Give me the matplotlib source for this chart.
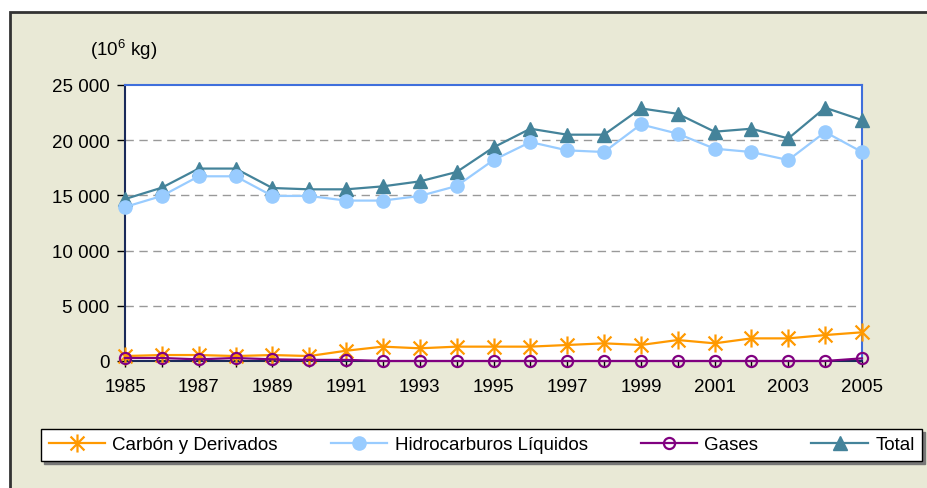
import matplotlib

matplotlib.use("Agg")

import matplotlib.pyplot as plt
from matplotlib.patches import Rectangle
from matplotlib.path import Path

years = list(range(1985, 2006))
carbon = [450, 540, 540, 450, 540, 450, 930, 1300, 1150, 1300, 1300,
          1300, 1450, 1600, 1450, 1900, 1600, 2050, 2050, 2350, 2600]
hidrocarburos = [13950, 14950, 16730, 16730, 14950, 14950, 14530, 14530, 14950, 15850, 18200,
                 19830, 19080, 18930, 21430, 20590, 19230, 18930, 18200, 20740, 18930]
gases = [270, 270, 150, 270, 150, 100, 100, 0, 0, 0, 0,
         0, 0, 0, 0, 0, 0, 0, 0, 0, 240]
total = [14670, 15700, 17430, 17430, 15670, 15550, 15550, 15820, 16270, 17120, 19350,
         21040, 20500, 20500, 22880, 22390, 20770, 21040, 20160, 22940, 21820]

series_names = ["Carbón y Derivados", "Hidrocarburos Líquidos", "Gases", "Total"]
x_tick_labels = [str(y) for y in range(1985, 2006, 2)]
y_ticks = [0, 5000, 10000, 15000, 20000, 25000]
y_tick_labels = ["0", "5 000", "10 000", "15 000", "20 000", "25 000"]
unit_label = r"(10$^{6}$ kg)"

plt.rcParams["font.family"] = ["Liberation Sans", "DejaVu Sans"]
plt.rcParams["mathtext.fontset"] = "custom"
plt.rcParams["mathtext.rm"] = "Liberation Sans"
plt.rcParams["mathtext.it"] = "Liberation Sans"

BEIGE = "#E9E9D6"
ORANGE = "#FF9900"
LIGHT_BLUE = "#99CCFF"
PURPLE = "#800080"
TEAL = "#44839A"
FONT_SIZE = 13.5

# Excel style asterisk: X with a vertical bar
star = Path(
    [(-1, -1), (1, 1), (-1, 1), (1, -1), (0, -1.3), (0, 1.3)],
    [Path.MOVETO, Path.LINETO, Path.MOVETO, Path.LINETO, Path.MOVETO, Path.LINETO],
)

fig = plt.figure(figsize=(9.27, 4.89), dpi=100, facecolor="white")
fig.patches.append(
    Rectangle((10 / 927, -0.2), 1.2, 1.2 - 12.5 / 489, transform=fig.transFigure,
              facecolor=BEIGE, edgecolor="#333333", linewidth=2, zorder=-10)
)

ax = fig.add_axes([125 / 927, 1 - 362 / 489, (862 - 125) / 927, (362 - 86) / 489])
ax.set_facecolor("white")

common = dict(linewidth=1.6, clip_on=False)
ax.plot(years, carbon, color=ORANGE, marker=star, markersize=13, markeredgewidth=1.6,
        label=series_names[0], zorder=5, **common)
ax.plot(years, hidrocarburos, color=LIGHT_BLUE, marker="o", markersize=9.5,
        markeredgecolor=LIGHT_BLUE, label=series_names[1], zorder=4, **common)
ax.plot(years, gases, color=PURPLE, marker="o", markersize=8, markerfacecolor="none",
        markeredgewidth=1.6, label=series_names[2], zorder=6, **common)
ax.plot(years, total, color=TEAL, marker="^", markersize=10.5, markeredgecolor=TEAL,
        label=series_names[3], zorder=3, **common)

ax.set_xlim(1985, 2005)
ax.set_ylim(0, 25000)
ax.set_xticks(years, minor=True)
ax.set_xticks(range(1985, 2006, 2))
ax.set_xticklabels(x_tick_labels)
ax.set_yticks(y_ticks)
ax.set_yticklabels(y_tick_labels)
ax.tick_params(axis="both", labelsize=FONT_SIZE, colors="black", direction="out")
ax.tick_params(axis="x", which="both", length=4, width=1, pad=8)
ax.tick_params(axis="y", length=6, width=1, pad=5)

for y in y_ticks[1:-1]:
    ax.axhline(y, color="#999999", linewidth=1, linestyle=(0, (6, 4)), zorder=1)

ax.spines["left"].set_color("#1a2a5a")
ax.spines["bottom"].set_color("#1a2a5a")
ax.spines["top"].set_color("#3f6fdc")
ax.spines["right"].set_color("#3f6fdc")
for spine in ax.spines.values():
    spine.set_linewidth(1.5)

fig.text(90 / 927, 1 - 50 / 489, unit_label, fontsize=FONT_SIZE, ha="left", va="center")

leg = fig.legend(
    loc="lower left",
    bbox_to_anchor=(41 / 927, 1 - 462 / 489, (922 - 41) / 927, 36 / 489),
    mode="expand",
    ncol=4,
    fontsize=FONT_SIZE,
    handlelength=3.0,
    handletextpad=0.4,
    borderaxespad=0,
    fancybox=False,
    shadow={"color": "#777777", "alpha": 1},
    edgecolor="black",
    framealpha=1,
)
leg.get_frame().set_linewidth(1)

fig.savefig("out.png", dpi=100, facecolor=fig.get_facecolor())
